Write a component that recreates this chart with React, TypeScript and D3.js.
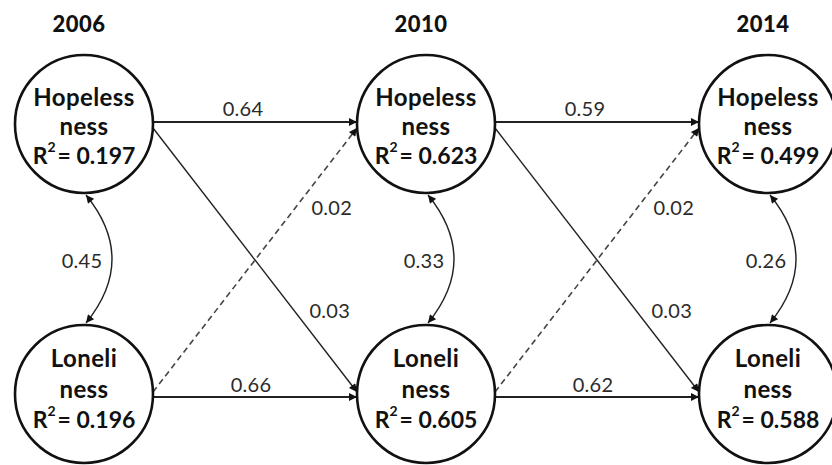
import React from "react";
import * as d3 from "d3";

const years = ["2006", "2010", "2014"];
const constructs = ["Hopelessness", "Loneliness"];
const hopelessLines = ["Hopeless", "ness"];
const lonelyLines = ["Loneli", "ness"];
const r2Hopelessness = ["0.197", "0.623", "0.499"];
const r2Loneliness = ["0.196", "0.605", "0.588"];
const stabilityHopelessness = ["0.64", "0.59"];
const stabilityLoneliness = ["0.66", "0.62"];
const crossLonelyToHopeless = ["0.02", "0.02"]; // dashed (non-significant)
const crossHopelessToLonely = ["0.03", "0.03"];
const covariances = ["0.45", "0.33", "0.26"];

const W = 832;
const H = 465;
const R = 69;
const FONT = "Lato, 'Open Sans', 'DejaVu Sans', sans-serif";
const LABEL_SIZE = 20;

export default function App() {
  const x = d3.scalePoint<string>().domain(years).range([84, 768]);
  const y = d3.scalePoint<string>().domain(constructs).range([124, 394]);
  const yH = y("Hopelessness")!;
  const yL = y("Loneliness")!;
  const lineH = yH - 2;
  const lineL = yL + 3;

  const lineGen = d3.line();
  const labelProps = {
    textAnchor: "middle" as const,
    dominantBaseline: "central" as const,
    fontSize: LABEL_SIZE,
    fill: "#2a2a2a",
    letterSpacing: 0.3,
  };

  const elements: React.ReactNode[] = [];

  for (let i = 0; i < years.length - 1; i++) {
    const x0 = x(years[i])! + R;
    const x1 = x(years[i + 1])! - R;
    const mid = (x0 + x1) / 2;
    elements.push(
      <path key={"hs" + i} d={lineGen([[x0, lineH], [x1, lineH]])!} stroke="#222" strokeWidth={1.8} fill="none" markerEnd="url(#arr)" />
    );
    elements.push(
      <text key={"hsl" + i} x={mid - 12} y={lineH - 14} {...labelProps}>
        {stabilityHopelessness[i]}
      </text>
    );
    elements.push(
      <path key={"ls" + i} d={lineGen([[x0, lineL], [x1, lineL]])!} stroke="#222" strokeWidth={1.8} fill="none" markerEnd="url(#arr)" />
    );
    elements.push(
      <text key={"lsl" + i} x={mid - 4} y={lineL - 13} {...labelProps}>
        {stabilityLoneliness[i]}
      </text>
    );
    const s1: [number, number] = [x0, yH + 4];
    const e1: [number, number] = [x1, yL - 2];
    elements.push(
      <path key={"hl" + i} d={lineGen([s1, e1])!} stroke="#222" strokeWidth={1.4} fill="none" markerEnd="url(#arr)" />
    );
    const t1 = 0.69;
    elements.push(
      <text key={"hll" + i} x={s1[0] + (e1[0] - s1[0]) * t1 + 36} y={s1[1] + (e1[1] - s1[1]) * t1} {...labelProps}>
        {crossHopelessToLonely[i]}
      </text>
    );
    const s2: [number, number] = [x0, yL - 2];
    const e2: [number, number] = [x1, yH + 4];
    elements.push(
      <path key={"lh" + i} d={lineGen([s2, e2])!} stroke="#444" strokeWidth={1.6} strokeDasharray="6,4" fill="none" markerEnd="url(#arr)" />
    );
    const t2 = 0.7;
    elements.push(
      <text key={"lhl" + i} x={s2[0] + (e2[0] - s2[0]) * t2 + 36} y={s2[1] + (e2[1] - s2[1]) * t2} {...labelProps}>
        {crossLonelyToHopeless[i]}
      </text>
    );
  }

  years.forEach((yr, i) => {
    const cx = x(yr)! + 2;
    const yTop = yH + R + 2;
    const yBot = yL - R - 2;
    const bulge = 26;
    const p = d3.path();
    p.moveTo(cx, yTop);
    p.quadraticCurveTo(cx + 2 * bulge, (yTop + yBot) / 2, cx, yBot);
    elements.push(
      <path key={"cov" + i} d={p.toString()} stroke="#222" strokeWidth={1.4} fill="none" markerStart="url(#arr)" markerEnd="url(#arr)" />
    );
    elements.push(
      <text key={"covl" + i} x={cx + bulge - 30} y={(yTop + yBot) / 2 + 1} {...labelProps}>
        {covariances[i]}
      </text>
    );
  });

  years.forEach((yr, i) => {
    const cx = x(yr)!;
    elements.push(
      <text key={"yr" + i} x={cx - 5} y={23} textAnchor="middle" dominantBaseline="central" fontSize={22} fontWeight={900} fill="#111" letterSpacing={0.5}>
        {yr}
      </text>
    );
    constructs.forEach((c, j) => {
      const cy = y(c)!;
      const lines = j === 0 ? hopelessLines : lonelyLines;
      const r2 = j === 0 ? r2Hopelessness[i] : r2Loneliness[i];
      const top = j === 0 ? cy - 28 : cy - 37;
      const step = j === 0 ? 29.5 : 31;
      elements.push(
        <g key={"n" + i + j}>
          <circle cx={cx} cy={cy} r={R} fill="#fff" stroke="#111" strokeWidth={2.6} />
          {lines.map((ln, k) => (
            <text key={k} x={cx} y={top + k * step} textAnchor="middle" dominantBaseline="central" fontSize={24} fontWeight="bold" fill="#111" letterSpacing={0.4}>
              {ln}
            </text>
          ))}
          <text x={cx} y={top + 2 * step} textAnchor="middle" dominantBaseline="central" fontSize={23} fontWeight="bold" fill="#111">
            <tspan>R</tspan>
            <tspan dy={-9} fontSize={14}>2</tspan>
            <tspan dy={9} dx={2}>{"= " + r2}</tspan>
          </text>
        </g>
      );
    });
  });

  return (
    <svg width={W} height={H} style={{ position: "absolute", left: 0, top: 0, background: "#fff", fontFamily: FONT }}>
      <defs>
        <marker id="arr" viewBox="0 0 10 10" refX={10} refY={5} markerWidth={10} markerHeight={8} markerUnits="userSpaceOnUse" orient="auto-start-reverse">
          <path d="M0,0 L10,5 L0,10 z" fill="#111" />
        </marker>
      </defs>
      <rect width={W} height={H} fill="#fff" />
      {elements}
    </svg>
  );
}
